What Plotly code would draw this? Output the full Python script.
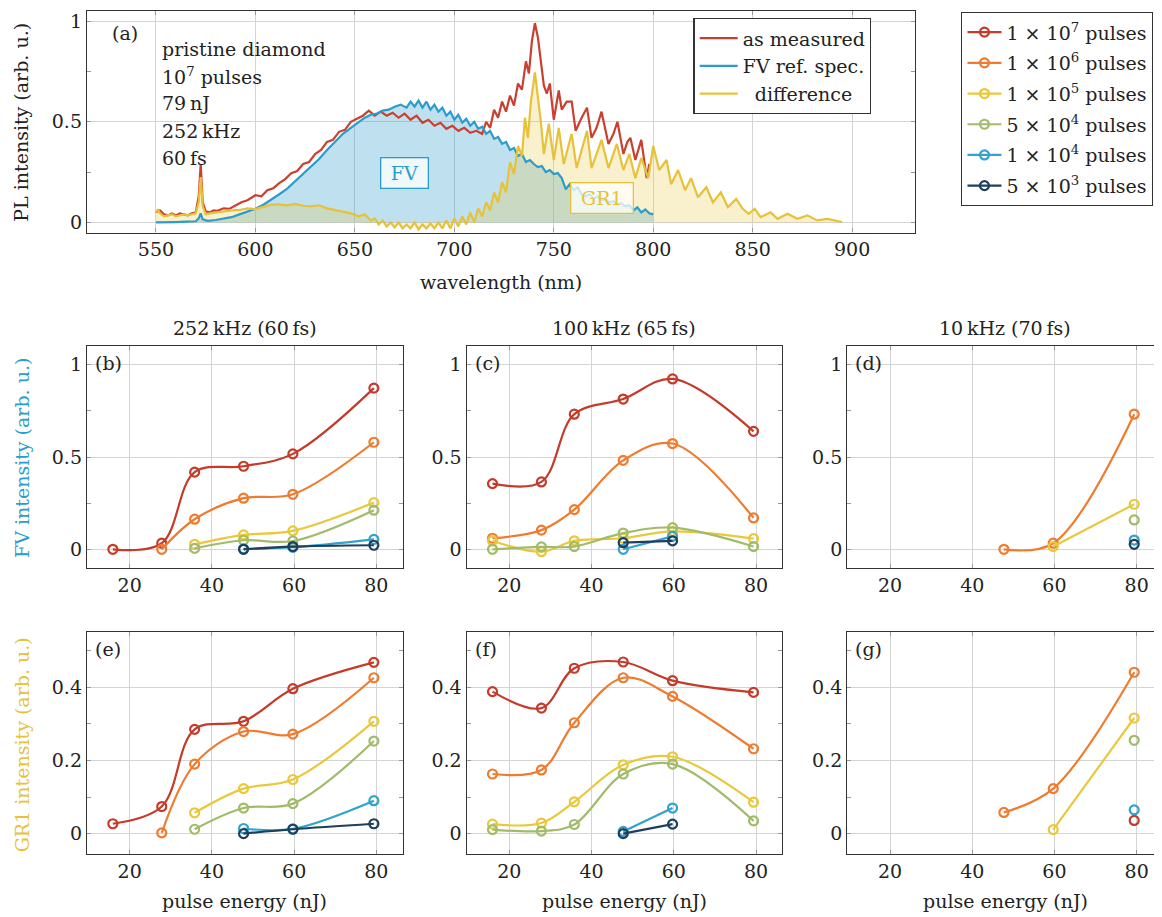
import plotly.graph_objects as go

SERIF = "DejaVu Serif"
OFF = 8                      # default page margin of the html body
FW, FH = 1162 - OFF, 917 - OFF
FS = 19

# ---------------- panel (a): spectra ----------------
WL_MEASURED = [550, 552, 554, 556, 558, 560, 562, 564, 566, 568,
               570, 571.5, 572.5, 573.5, 575, 577, 579, 581, 584, 587,
               590, 593, 596, 600, 603, 606, 609, 612, 615, 618,
               621, 624, 627, 630, 633, 636, 639, 642, 645, 648,
               651, 654, 657, 660, 663, 666, 669, 672, 675, 678,
               681, 684, 687, 690, 693, 696, 699, 702, 705, 708,
               711, 714, 716, 718, 720, 722, 724, 726, 728, 730,
               732, 734, 736, 737.5, 739, 740.5, 742, 743.5, 745, 746.5,
               748, 750, 752.5, 754, 756.5, 759, 761, 764, 766.7, 769,
               771.5, 774, 777.5, 780, 782, 785, 787, 788.5, 791, 794, 796.7, 798]
AS_MEASURED = [0.05, 0.06, 0.04, 0.035, 0.045, 0.035, 0.045, 0.04, 0.035, 0.045,
               0.05, 0.13, 0.29, 0.1, 0.055, 0.05, 0.06, 0.058, 0.07, 0.068,
               0.085, 0.1, 0.11, 0.135, 0.13, 0.16, 0.17, 0.195, 0.215, 0.245,
               0.255, 0.29, 0.3, 0.34, 0.36, 0.4, 0.41, 0.45, 0.46, 0.5,
               0.515, 0.53, 0.555, 0.53, 0.55, 0.53, 0.545, 0.52, 0.54, 0.51,
               0.53, 0.495, 0.51, 0.48, 0.495, 0.465, 0.48, 0.455, 0.47, 0.445,
               0.455, 0.44, 0.5, 0.47, 0.56, 0.52, 0.6, 0.55, 0.63, 0.58,
               0.69, 0.66, 0.8, 0.74, 0.9, 0.99, 0.92, 0.8, 0.68, 0.64,
               0.69, 0.51, 0.655, 0.56, 0.6, 0.6, 0.455, 0.52, 0.57, 0.42,
               0.47, 0.55, 0.39, 0.44, 0.5, 0.34, 0.4, 0.42, 0.31, 0.41, 0.22, 0.29]

WL_FV = [550, 555, 560, 565, 570, 571.5, 572.5, 573.5, 576, 580,
         584, 588, 592, 596, 600, 604, 608, 612, 616, 620,
         624, 628, 632, 636, 640, 644, 648, 652, 655, 658,
         661, 664, 667, 670, 673, 676, 678, 680, 682, 684,
         686, 688, 690, 692, 694, 696, 698, 700, 702, 704,
         706, 708, 710, 712, 714, 716, 718, 720, 722, 724,
         726, 728, 730, 732, 734, 736, 738, 740, 742, 744,
         746, 748, 750, 752, 754, 756, 758, 760, 762, 764,
         766, 768, 770, 772, 774, 776, 778, 780, 782, 784,
         786, 788, 790, 792, 794, 796, 798, 800]
FV_REF = [0.0, 0.0, 0.002, 0.004, 0.006, 0.02, 0.045, 0.015, 0.008, 0.012,
          0.018, 0.026, 0.04, 0.055, 0.068, 0.088, 0.112, 0.14, 0.168, 0.205,
          0.24, 0.275, 0.315, 0.36, 0.4, 0.44, 0.47, 0.5, 0.52, 0.535,
          0.54, 0.555, 0.56, 0.575, 0.585, 0.57, 0.6, 0.575, 0.605, 0.57,
          0.6, 0.56, 0.585, 0.55, 0.57, 0.53, 0.55, 0.51, 0.535, 0.495,
          0.515, 0.48, 0.5, 0.465, 0.475, 0.44, 0.455, 0.415, 0.425, 0.39,
          0.4, 0.36, 0.37, 0.33, 0.34, 0.3, 0.31, 0.29, 0.275, 0.28,
          0.25, 0.26, 0.24, 0.245, 0.22, 0.165, 0.19, 0.16, 0.175, 0.14,
          0.13, 0.14, 0.12, 0.13, 0.11, 0.115, 0.1, 0.105, 0.09, 0.095,
          0.08, 0.085, 0.06, 0.075, 0.05, 0.065, 0.045, 0.04]

WL_DIFF = [550, 551, 552, 554, 556, 558, 560, 562, 564, 566,
           568, 570, 571.5, 572.5, 573.5, 575, 577, 580, 584, 588,
           592, 596, 600, 604, 608, 612, 616, 620, 624, 628,
           632, 636, 640, 644, 648, 652, 655, 658, 660, 662,
           664, 666, 668, 670, 672, 674, 676, 678, 680, 682,
           684, 686, 688, 690, 692, 694, 696, 698, 700, 702,
           704, 706, 708, 710, 712, 714, 716, 718, 720, 722,
           724, 726, 728, 730, 732, 734, 735.5, 737, 738.5, 740.5,
           742, 743.5, 745, 747.5, 750, 752.5, 755, 759, 761.5, 766.7,
           769, 774, 777.5, 781.7, 785, 788, 791, 794, 797.5, 800,
           803, 806.7, 809, 812.5, 816, 819, 822.5, 826.7, 830, 834,
           837.5, 841.7, 845, 848, 851, 854, 859, 862.5, 867.5, 872.5,
           877.5, 882.5, 887.5, 892.5, 895]
DIFFERENCE = [0.05, 0.065, 0.045, 0.03, 0.035, 0.04, 0.03, 0.035, 0.04, 0.035,
              0.04, 0.045, 0.1, 0.225, 0.08, 0.04, 0.045, 0.05, 0.055, 0.06,
              0.062, 0.07, 0.066, 0.078, 0.088, 0.09, 0.085, 0.092, 0.083, 0.08,
              0.085, 0.07, 0.062, 0.055, 0.045, 0.03, 0.04, 0.01, 0.02, -0.01,
              0.01, -0.02, 0.0, -0.025, 0.0, -0.03, -0.01, -0.03, 0.0, -0.035,
              -0.01, -0.03, -0.005, -0.03, 0.0, -0.03, 0.01, -0.03, 0.02, -0.02,
              0.03, -0.01, 0.05, 0.0, 0.07, 0.03, 0.1, 0.06, 0.15, 0.1,
              0.2, 0.15, 0.3, 0.24, 0.38, 0.33, 0.52, 0.42, 0.6, 0.745,
              0.62, 0.5, 0.34, 0.49, 0.31, 0.47, 0.29, 0.44, 0.27, 0.455,
              0.27, 0.41, 0.27, 0.39, 0.26, 0.34, 0.22, 0.32, 0.22, 0.38,
              0.26, 0.31, 0.19, 0.26, 0.16, 0.22, 0.125, 0.175, 0.1, 0.15,
              0.076, 0.117, 0.068, 0.043, 0.068, 0.026, 0.05, 0.018, 0.043, 0.018,
              0.035, 0.01, 0.018, 0.007, 0.002]

SPEC_NAMES = ["as measured", "FV ref. spec.", "\u00a0\u00a0difference"]
RED, BLUE, YELLOW = "#c9402f", "#2b9ccb", "#e6c23b"

# ---------------- panels (b)-(g): pulse-energy series ----------------
ENERGY = [15.9, 27.8, 35.8, 47.7, 59.7, 79.4]
SERIES = ["1 × 10<sup>7</sup> pulses", "1 × 10<sup>6</sup> pulses", "1 × 10<sup>5</sup> pulses",
          "5 × 10<sup>4</sup> pulses", "1 × 10<sup>4</sup> pulses", "5 × 10<sup>3</sup> pulses"]
COLORS = ["#c43b2a", "#f07b2e", "#e9c83c", "#a2bb6a", "#32a2cf", "#1d3f5c"]
N = None

FV_252 = [[0.0, 0.033, 0.418, 0.45, 0.517, 0.873],
          [N, 0.0, 0.163, 0.277, 0.298, 0.58],
          [N, N, 0.027, 0.078, 0.1, 0.253],
          [N, N, 0.005, 0.049, 0.045, 0.212],
          [N, N, N, 0.002, 0.011, 0.054],
          [N, N, N, 0.0, 0.015, 0.022]]
FV_100 = [[0.356, 0.365, 0.732, 0.814, 0.923, 0.639],
          [0.06, 0.104, 0.215, 0.482, 0.573, 0.17],
          [0.046, -0.013, 0.046, 0.06, 0.097, 0.058],
          [0.0, 0.013, 0.015, 0.088, 0.117, 0.015],
          [N, N, N, 0.0, 0.07, N],
          [N, N, N, 0.036, 0.046, N]]
FV_10 = [[N, N, N, N, N, N],
         [N, N, N, 0.0, 0.033, 0.732],
         [N, N, N, N, 0.015, 0.244],
         [N, N, N, N, N, 0.159],
         [N, N, N, N, N, 0.05],
         [N, N, N, N, N, 0.027]]
GR1_252 = [[0.027, 0.074, 0.285, 0.307, 0.396, 0.468],
           [N, 0.002, 0.19, 0.279, 0.272, 0.426],
           [N, N, 0.057, 0.123, 0.148, 0.307],
           [N, N, 0.012, 0.07, 0.082, 0.253],
           [N, N, N, 0.014, 0.013, 0.09],
           [N, N, N, 0.0, 0.012, 0.027]]
GR1_100 = [[0.388, 0.343, 0.452, 0.469, 0.418, 0.386],
           [0.163, 0.174, 0.303, 0.426, 0.375, 0.232],
           [0.026, 0.029, 0.087, 0.188, 0.21, 0.086],
           [0.011, 0.007, 0.025, 0.163, 0.19, 0.035],
           [N, N, N, 0.006, 0.07, N],
           [N, N, N, 0.0, 0.026, N]]
GR1_10 = [[N, N, N, N, N, 0.036],
          [N, N, N, 0.058, 0.123, 0.441],
          [N, N, N, N, 0.011, 0.316],
          [N, N, N, N, N, 0.255],
          [N, N, N, N, N, 0.065],
          [N, N, N, N, N, N]]

COL_TITLES = ["252\u2009kHz (60\u2009fs)", "100\u2009kHz (65\u2009fs)", "10\u2009kHz (70\u2009fs)"]
PANEL_TAGS = ["(b)", "(c)", "(d)", "(e)", "(f)", "(g)"]


def px(x):
    """page x pixel -> paper fraction"""
    return (x - OFF) / FW


def py(y):
    """page y pixel -> paper fraction"""
    return 1 - (y - OFF) / FH


fig = go.Figure()

# spectra: fills first (no legend), then lines
fig.add_trace(go.Scatter(x=WL_FV, y=FV_REF, mode="none", fill="tozeroy",
                         fillcolor="rgba(43,156,203,0.30)", showlegend=False, hoverinfo="skip",
                         xaxis="x", yaxis="y"))
fig.add_trace(go.Scatter(x=WL_DIFF, y=DIFFERENCE, mode="none", fill="tozeroy",
                         fillcolor="rgba(230,194,59,0.25)", showlegend=False, hoverinfo="skip",
                         xaxis="x", yaxis="y"))
fig.add_trace(go.Scatter(x=WL_MEASURED, y=AS_MEASURED, mode="lines", name=SPEC_NAMES[0],
                         line=dict(color=RED, width=2.2), legend="legend2", legendrank=1,
                         xaxis="x", yaxis="y"))
fig.add_trace(go.Scatter(x=WL_FV, y=FV_REF, mode="lines", name=SPEC_NAMES[1],
                         line=dict(color=BLUE, width=2.2), legend="legend2", legendrank=2,
                         xaxis="x", yaxis="y"))
fig.add_trace(go.Scatter(x=WL_DIFF, y=DIFFERENCE, mode="lines", name=SPEC_NAMES[2],
                         line=dict(color=YELLOW, width=2.2), legend="legend2", legendrank=3,
                         xaxis="x", yaxis="y"))

panels = [(FV_252, "x2", "y2"), (FV_100, "x3", "y3"), (FV_10, "x4", "y4"),
          (GR1_252, "x5", "y5"), (GR1_100, "x6", "y6"), (GR1_10, "x7", "y7")]
for pi, (data, xa, ya) in enumerate(panels):
    for si, vals in enumerate(data):
        xs = [e for e, v in zip(ENERGY, vals) if v is not None]
        ys = [v for v in vals if v is not None]
        show = pi == 0
        if not xs and not show:
            continue
        fig.add_trace(go.Scatter(
            x=xs, y=ys, mode="lines+markers", name=SERIES[si],
            legendgroup=SERIES[si], showlegend=show, legend="legend",
            line=dict(color=COLORS[si], width=2.2, shape="spline", smoothing=1.0),
            marker=dict(symbol="circle-open", size=9, color=COLORS[si], line=dict(width=2.2)),
            xaxis=xa, yaxis=ya))

common = dict(showline=True, linecolor="#333", linewidth=1.3, mirror="allticks",
              showgrid=True, gridcolor="#d4d4d4", gridwidth=1.1, zeroline=False,
              ticks="inside", ticklen=4, tickcolor="#999", ticklabeloverflow="allow",
              tickfont=dict(family=SERIF, size=FS, color="#222"))

layout_axes = {}
# panel (a)
layout_axes["xaxis"] = dict(domain=[px(87), px(916)], range=[515.3, 931.7], anchor="y",
                            tickvals=[550, 600, 650, 700, 750, 800, 850, 900], **common)
layout_axes["yaxis"] = dict(domain=[py(232), py(10)], range=[-0.05, 1.05], anchor="x",
                            tickvals=[0, 0.5, 1], ticktext=["0", "0.5", "1"],
                            minor=dict(tickvals=[0.25, 0.75], ticks="inside", ticklen=4,
                                       tickcolor="#999", showgrid=False), **common)

col_x = [(87, 403), (467, 783), (848, 1164)]
row_y = [(346, 568), (632, 855)]
for i in range(6):
    r, c = divmod(i, 3)
    n = i + 2
    x0, x1 = col_x[c]
    y0, y1 = row_y[r]
    layout_axes[f"xaxis{n}"] = dict(domain=[px(x0), min(1.0, px(x1))],
                                    range=[9.6, 86.4] if c < 2 else [9.6, 86.4 - (x1 - 1162) / 4.13],
                                    anchor=f"y{n}", tickvals=[20, 40, 60, 80], **common)
    if r == 0:
        yd = dict(range=[-0.1, 1.1], tickvals=[0, 0.5, 1], ticktext=["0", "0.5", "1"],
                  minor=dict(tickvals=[0.25, 0.75], ticks="inside", ticklen=4,
                             tickcolor="#999", showgrid=False))
    else:
        yd = dict(range=[-0.056, 0.552], tickvals=[0, 0.2, 0.4], ticktext=["0", "0.2", "0.4"],
                  minor=dict(tickvals=[0.1, 0.3, 0.5], ticks="inside", ticklen=4,
                             tickcolor="#999", showgrid=False))
    layout_axes[f"yaxis{n}"] = dict(domain=[py(y1), py(y0)], anchor=f"x{n}", **yd, **common)

fig.update_layout(
    width=FW, height=FH, margin=dict(l=0, r=0, t=0, b=0),
    paper_bgcolor="white", plot_bgcolor="white",
    font=dict(family=SERIF, size=FS, color="#222"),
    legend=dict(x=px(962), y=py(11), xanchor="left", yanchor="top",
                bordercolor="#333", borderwidth=1.3, bgcolor="white",
                font=dict(family=SERIF, size=FS, color="#222"),
                itemwidth=34, tracegroupgap=3, traceorder="grouped"),
    legend2=dict(x=px(694), y=py(17), xanchor="left", yanchor="top",
                 bordercolor="#333", borderwidth=1.3, bgcolor="white",
                 font=dict(family=SERIF, size=FS, color="#222"),
                 itemwidth=38, traceorder="normal"),
    **layout_axes,
)

ann = []


def text(x, y, s, color="#222", size=FS, xanchor="left", angle=0):
    ann.append(dict(x=px(x), y=py(y), xref="paper", yref="paper", text=s, showarrow=False,
                    xanchor=xanchor, yanchor="middle", textangle=angle,
                    font=dict(family=SERIF, size=size, color=color)))


# panel (a) text
text(110, 32, "(a)")
for yy, s in zip([48, 75, 102, 130, 157],
                 ["pristine diamond", "10<sup>7</sup> pulses", "79\u2009nJ",
                  "252\u2009kHz", "60\u2009fs"]):
    text(160, yy, s)
text(501, 282, "wavelength (nm)", xanchor="center")
text(21, 121, "PL intensity (arb. u.)", xanchor="center", angle=-90)
text(22, 458, "FV intensity (arb. u.)", color=BLUE, xanchor="center", angle=-90)
text(22, 745, "GR1 intensity (arb. u.)", color=YELLOW, xanchor="center", angle=-90)

for c, (x0, x1) in enumerate(col_x):
    cx = (x0 + (x0 + 316)) / 2
    text(cx, 328, COL_TITLES[c], xanchor="center")
    text(cx, 902, "pulse energy (nJ)", xanchor="center")

for i, tag in enumerate(PANEL_TAGS):
    r, c = divmod(i, 3)
    text(col_x[c][0] + 6, row_y[r][0] + 17, tag)

# FV / GR1 label boxes
ann.append(dict(x=674.75, y=0.2475, xref="x", yref="y", text="FV", showarrow=False,
                font=dict(family=SERIF, size=FS, color=BLUE), bordercolor=BLUE, borderwidth=1.3,
                borderpad=3, bgcolor="rgba(255,255,255,0.75)", width=40, height=23))
ann.append(dict(x=774, y=0.119, xref="x", yref="y", text="GR1", showarrow=False,
                font=dict(family=SERIF, size=FS, color=YELLOW), bordercolor=YELLOW, borderwidth=1.3,
                borderpad=3, bgcolor="rgba(255,255,255,0.75)", width=55, height=23))

fig.update_layout(annotations=ann)
fig.write_html("out.html")
